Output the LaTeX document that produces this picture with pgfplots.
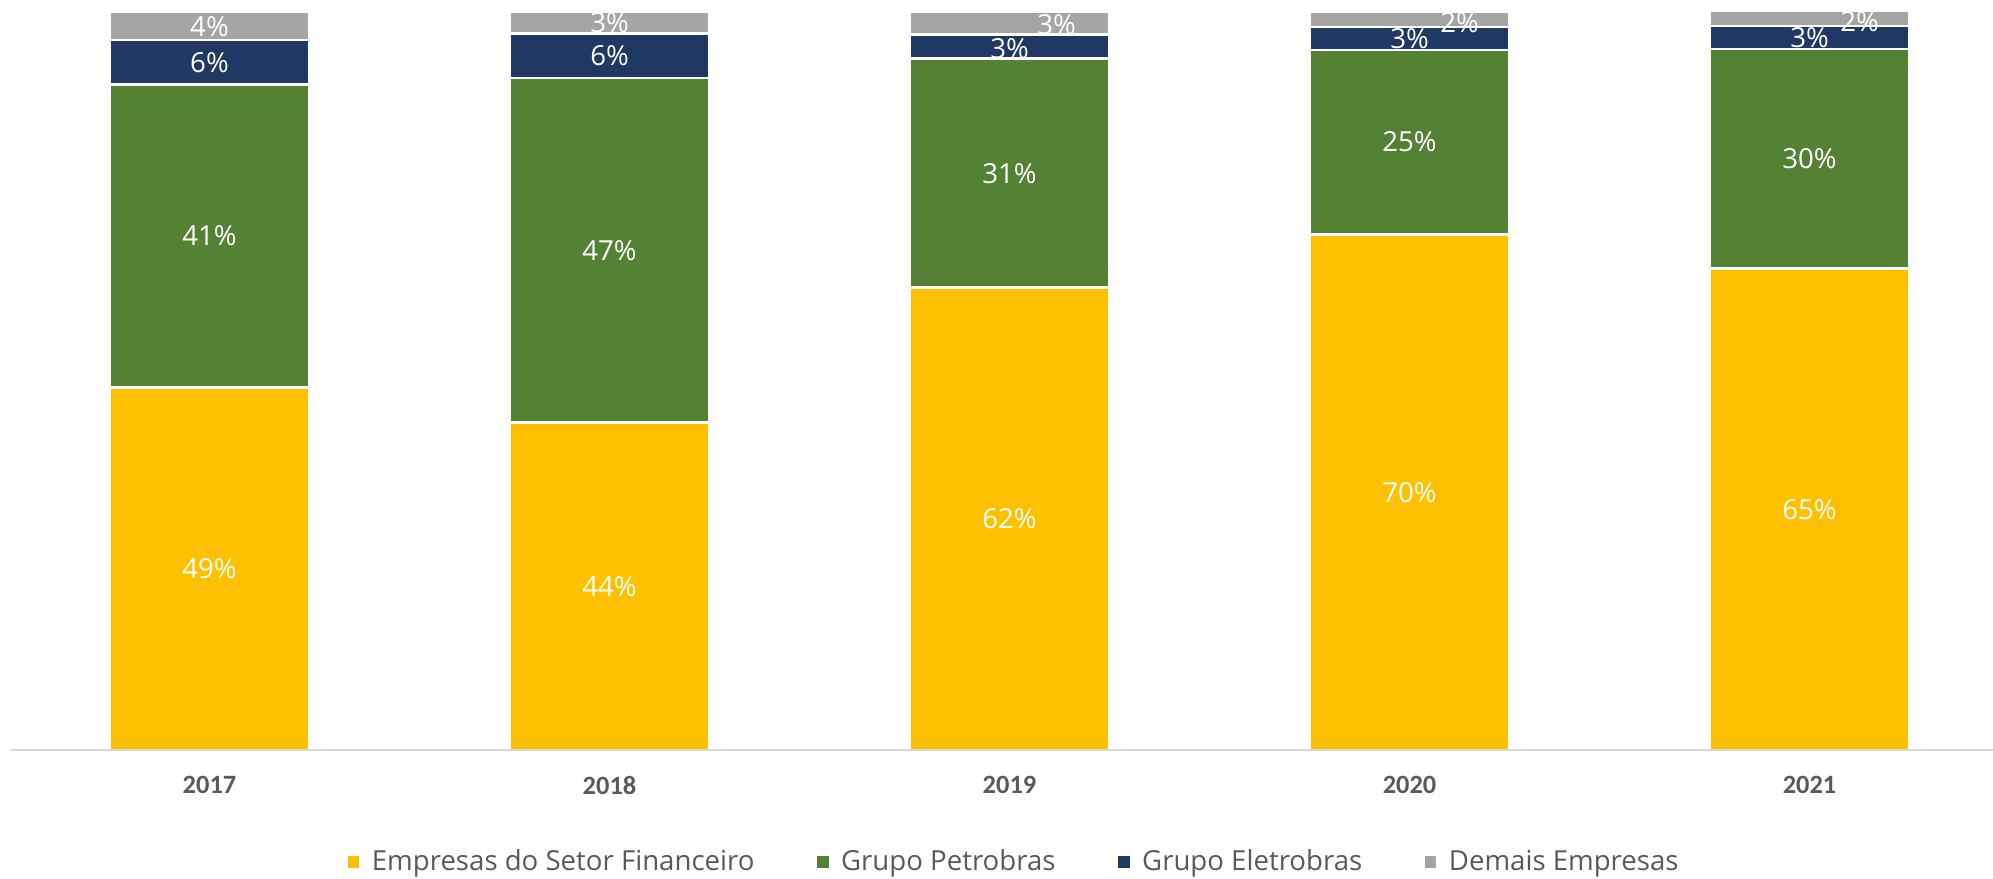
\documentclass[border=0pt]{standalone}
\usepackage{fontspec}
\usepackage{pgfplots}
\usepackage{pgfplotstable}
\pgfplotsset{compat=1.18}
\setmainfont{Open Sans}
\newfontfamily\tickfam{Carlito}
\newcommand\labfont{\fontsize{13.8bp}{16bp}\selectfont}
\newcommand\tickfont{\tickfam\bfseries\fontsize{13.2bp}{15bp}\selectfont}
\definecolor{cYel}{HTML}{FFC000}
\definecolor{cGrn}{HTML}{548235}
\definecolor{cNav}{HTML}{203864}
\definecolor{cGry}{HTML}{A5A5A5}
\definecolor{axgrey}{HTML}{D9D9D9}
\definecolor{txtgrey}{HTML}{595959}

\pgfplotstableread{
x y lab dx dy
0 49.1 49 0 0
1 44.3 44 0 0
2 62.6 62 0 0
3 69.8 70 0 0
4 65.2 65 0 0
}\tfin
\pgfplotstableread{
x y lab dx dy
0 41.0 41 0 0
1 46.7 47 0 0
2 31.0 31 0 0
3 25.0 25 0 0
4 29.7 30 0 0
}\tpet
\pgfplotstableread{
x y lab dx dy
0 6.0 6 0 0
1 6.0 6 0 0
2 3.3 3 0 -1
3 3.1 3 0 0
4 3.1 3 0 0
}\tele
\pgfplotstableread{
x y lab dx dy
0 3.8 4 0 0
1 2.9 3 0 0
2 3.1 3 23.5 -1
3 2.1 2 25 -1.5
4 2.1 2 25 -1.5
}\tdem

\pgfplotsset{
  seg/.style={fill=#1, draw=white, line width=1.3bp,
    legend image code/.code={\path[fill=#1] (0bp,-3.5bp) rectangle (7bp,3.5bp);},
    visualization depends on={\thisrow{dx} \as \dx},
    visualization depends on={\thisrow{dy} \as \dy},
    point meta=explicit symbolic,
    nodes near coords={\pgfplotspointmeta\%},
    nodes near coords align=center,
    every node near coord/.append style={anchor=center, text=white, font=\labfont, inner sep=0pt,
      yshift={\dy*1bp}, xshift={\dx*1bp}},
  },
}

\begin{document}
\begin{tikzpicture}
\begin{axis}[
  scale only axis, width=991.75bp, height=369.3bp,
  xmin=-0.5, xmax=4.45875, ymin=0, ymax=100,
  ybar stacked, bar width=99.8bp,
  axis x line*=bottom, axis y line=none,
  x axis line style={draw=axgrey, line width=1.4bp, -},
  xtick={0,1,2,3,4}, xticklabels={2017,2018,2019,2020,2021},
  major tick length=0pt,
  xticklabel style={font=\tickfont, text=txtgrey, anchor=center, yshift=-17.5bp},
  clip=false, axis on top,
  legend columns=4,
  legend style={at={(0.5054,-0.1516)}, anchor=center, draw=none, fill=none,
    inner sep=0pt, font=\labfont, text=txtgrey,
    /tikz/every odd column/.append style={column sep=5bp},
    /tikz/every even column/.append style={column sep=30bp},
    nodes={inner sep=0pt}},
  legend cell align=left,
]
\addplot[seg=cYel] table[x=x, y=y, meta=lab] {\tfin};
\addlegendentry{Empresas do Setor Financeiro}
\addplot[seg=cGrn] table[x=x, y=y, meta=lab] {\tpet};
\addlegendentry{Grupo Petrobras}
\addplot[seg=cNav] table[x=x, y=y, meta=lab] {\tele};
\addlegendentry{Grupo Eletrobras}
\addplot[seg=cGry] table[x=x, y=y, meta=lab] {\tdem};
\addlegendentry{Demais Empresas}
\coordinate (SW) at (rel axis cs:0,0);
\coordinate (SE) at (rel axis cs:1,0);
\end{axis}
\pgfresetboundingbox
\path[use as bounding box] ([xshift=-4.75bp, yshift=-64.5bp]SW) rectangle ([yshift=375bp]SE);
\end{tikzpicture}
\end{document}
